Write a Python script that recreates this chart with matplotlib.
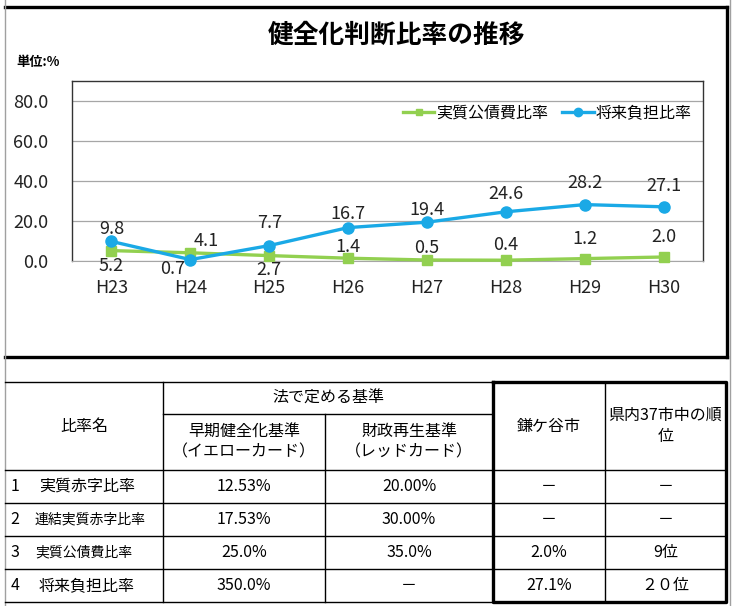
import matplotlib
matplotlib.use("Agg")
import matplotlib.pyplot as plt

plt.rcParams['font.family'] = ['Noto Sans CJK JP', 'DejaVu Sans']

# ---- data ----
years = ["H23", "H24", "H25", "H26", "H27", "H28", "H29", "H30"]
debt_ratio = [5.2, 4.1, 2.7, 1.4, 0.5, 0.4, 1.2, 2.0]         # 実質公債費比率
future_ratio = [9.8, 0.7, 7.7, 16.7, 19.4, 24.6, 28.2, 27.1]  # 将来負担比率

# data label offsets in pixels, as they sit in the original
debt_offsets = [(0, -15), (16, 12), (0, -14), (0, 11), (0, 12), (0, 15), (0, 20), (0, 20)]
future_offsets = [(0, 12), (-18, -9), (0, 23), (0, 14), (0, 12), (0, 18), (0, 22), (0, 21)]

# table
ratio_names = ["実質赤字比率", "連結実質赤字比率", "実質公債費比率", "将来負担比率"]
early_std = ["12.53%", "17.53%", "25.0%", "350.0%"]
rebuild_std = ["20.00%", "30.00%", "35.0%", "－"]
city_vals = ["－", "－", "2.0%", "27.1%"]
city_rank = ["－", "－", "9位", "２０位"]

green = "#92D050"
blue = "#1AA9E6"

W, H = 732, 606
fig = plt.figure(figsize=(W / 100, H / 100), dpi=100)

# background axes in pixel coords (y down) for frame, titles and the table
bg = fig.add_axes([0, 0, 1, 1])
bg.set_xlim(0, W)
bg.set_ylim(H, 0)
bg.axis("off")

# ---- chart ----
ax = fig.add_axes([72 / W, 1 - 261 / H, 631 / W, 180 / H])
x = range(len(years))
ax.plot(x, debt_ratio, color=green, lw=2.4, marker="s", ms=6.5, clip_on=False,
        label="実質公債費比率", zorder=3)
ax.plot(x, future_ratio, color=blue, lw=2.4, marker="o", ms=8, clip_on=False,
        label="将来負担比率", zorder=4)

for i, v in enumerate(debt_ratio):
    ax.annotate(f"{v:.1f}", (i, v), xytext=debt_offsets[i], textcoords="offset pixels",
                ha="center", va="center", fontsize=13, color="#222222")
for i, v in enumerate(future_ratio):
    ax.annotate(f"{v:.1f}", (i, v), xytext=future_offsets[i], textcoords="offset pixels",
                ha="center", va="center", fontsize=13, color="#222222")

ax.set_xlim(-0.5, len(years) - 0.5)
ax.set_ylim(0, 90)
ax.set_xticks(list(x))
ax.set_xticklabels(years)
ax.set_yticks(range(0, 81, 20))
ax.set_yticklabels([f"{t:.1f}" for t in range(0, 81, 20)])
ax.tick_params(length=0, labelsize=13, colors="#222222")
ax.tick_params(axis="x", pad=13)
ax.tick_params(axis="y", pad=17)
ax.grid(axis="y", color="#a6a6a6", lw=0.9)
ax.set_axisbelow(True)
for s in ["top", "left", "right"]:
    ax.spines[s].set_color("#333333")
    ax.spines[s].set_linewidth(1.0)
ax.spines["bottom"].set_color("#a6a6a6")

ax.legend(loc="center right", bbox_to_anchor=(692, 113), bbox_transform=bg.transData,
          ncol=2, frameon=False, fontsize=11.5, handlelength=2.0, handletextpad=0.1,
          columnspacing=0.9, borderpad=0, borderaxespad=0, markerscale=0.75)

bg.text(396, 35, "健全化判断比率の推移", ha="center", va="center", fontsize=18.5,
        fontweight="bold")
bg.text(16, 62, "単位:%", ha="left", va="center", fontsize=9.5, fontweight="bold")

# chart frame
thick = 2.4
bg.plot([5, 727], [7, 7], color="black", lw=thick)
bg.plot([727, 727], [7, 357], color="black", lw=thick)
bg.plot([5, 727], [357, 357], color="black", lw=thick)
bg.plot([5, 5], [0, H], color="#a0a0a0", lw=1)
bg.plot([730, 730], [0, H], color="#a0a0a0", lw=1)

# ---- table ----
cols = [5, 163, 325, 493, 605, 726]
top, sub, head_bot = 382, 414, 470
row_h = 33
rows_y = [head_bot + row_h * i for i in range(len(ratio_names) + 1)]
bottom = rows_y[-1]

thin = 1.0
# horizontal lines
bg.plot([cols[0], cols[3]], [top, top], color="black", lw=thin)
bg.plot([cols[1], cols[3]], [sub, sub], color="black", lw=thin)
for y in rows_y[:-1]:
    bg.plot([cols[0], cols[5]], [y, y], color="black", lw=thin)
bg.plot([cols[0], cols[3]], [bottom, bottom], color="black", lw=thin)
# vertical lines
bg.plot([cols[1], cols[1]], [top, bottom], color="black", lw=thin)
bg.plot([cols[2], cols[2]], [sub, bottom], color="black", lw=thin)
bg.plot([cols[4], cols[4]], [top, bottom], color="black", lw=thin)
# thick box round the city columns
bg.plot([cols[3], cols[5], cols[5], cols[3], cols[3]],
        [top, top, bottom, bottom, top], color="black", lw=thick)

fs = 11.5
bg.text((cols[0] + cols[1]) / 2, (top + head_bot) / 2, "比率名", ha="center", va="center", fontsize=fs)
bg.text((cols[1] + cols[3]) / 2, (top + sub) / 2, "法で定める基準", ha="center", va="center", fontsize=fs)
bg.text((cols[1] + cols[2]) / 2, (sub + head_bot) / 2, "早期健全化基準\n（イエローカード）",
        ha="center", va="center", fontsize=fs, linespacing=1.25)
bg.text((cols[2] + cols[3]) / 2, (sub + head_bot) / 2, "財政再生基準\n（レッドカード）",
        ha="center", va="center", fontsize=fs, linespacing=1.25)
bg.text((cols[3] + cols[4]) / 2, (top + head_bot) / 2, "鎌ケ谷市", ha="center", va="center", fontsize=fs)
bg.text((cols[4] + cols[5]) / 2, (top + head_bot) / 2, "県内37市中の順\n位",
        ha="center", va="center", fontsize=fs, linespacing=1.35)

for i, name in enumerate(ratio_names):
    yc = (rows_y[i] + rows_y[i + 1]) / 2
    bg.text(15, yc, str(i + 1), ha="center", va="center", fontsize=fs)
    if len(name) > 6:
        bg.text(35, yc, name, ha="left", va="center", fontsize=10)
    else:
        bg.text(39, yc, name, ha="left", va="center", fontsize=fs)
    row = [early_std[i], rebuild_std[i], city_vals[i], city_rank[i]]
    for j, val in enumerate(row):
        bg.text((cols[j + 1] + cols[j + 2]) / 2, yc, val, ha="center", va="center", fontsize=fs)

fig.savefig("out.png", dpi=100)
